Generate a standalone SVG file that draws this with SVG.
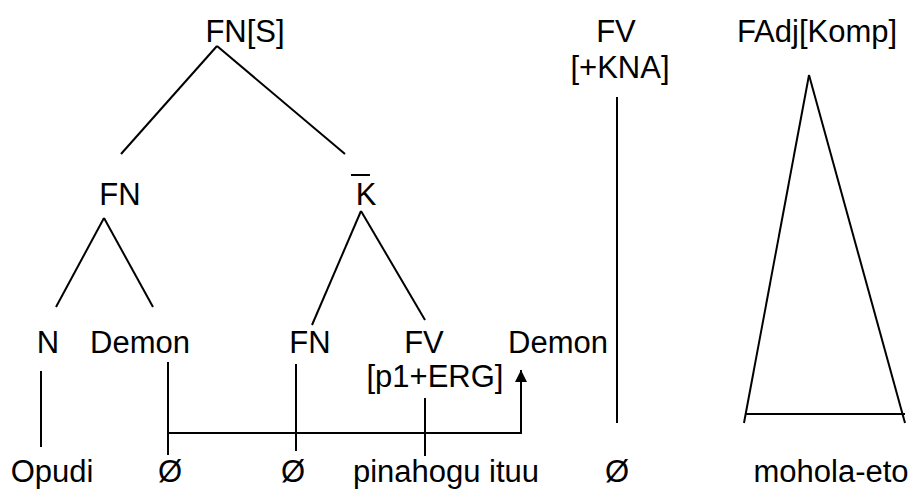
<svg xmlns="http://www.w3.org/2000/svg" width="916" height="489" viewBox="0 0 916 489">
<style>
text{font-family:"Liberation Sans",Arial,sans-serif;font-size:31px;fill:#000;text-anchor:middle}
line,polyline{stroke:#000;stroke-width:2;fill:none}
</style>
<defs>
<marker id="ah" markerWidth="12" markerHeight="12" refX="12" refY="6" orient="auto" markerUnits="userSpaceOnUse" viewBox="0 0 12 12">
<polygon points="0,0 12,6 0,12" fill="#000"/>
</marker>
</defs>
<rect width="916" height="489" fill="#fff"/>
<g id="n-fns"><text x="245" y="42">FN[S]</text></g>
<g id="n-fn1"><text x="120" y="205">FN</text></g>
<g id="n-kbar"><text x="366" y="205">K</text><line x1="351" y1="175" x2="370" y2="175"/></g>
<g id="n-n"><text x="48" y="353">N</text></g>
<g id="n-demon1"><text x="140" y="353">Demon</text></g>
<g id="n-fn2"><text x="310" y="353">FN</text></g>
<g id="n-fv1"><text x="424" y="353">FV</text><text x="435" y="387">[p1+ERG]</text></g>
<g id="n-demon2"><text x="558" y="353">Demon</text></g>
<g id="n-fv2"><text x="616" y="42">FV</text><text x="620" y="78">[+KNA]</text></g>
<g id="n-fadj"><text x="817" y="42">FAdj[Komp]</text></g>
<g id="n-opudi"><text x="52" y="482">Opudi</text></g>
<g id="n-o1"><text x="170" y="482">Ø</text></g>
<g id="n-o2"><text x="293" y="482">Ø</text></g>
<g id="n-pin"><text x="446" y="482">pinahogu ituu</text></g>
<g id="n-o3"><text x="617" y="482">Ø</text></g>
<g id="n-moh"><text x="831" y="482">mohola-eto</text></g>
<g id="connectors">
<line x1="217" y1="46" x2="121" y2="154"/>
<line x1="217" y1="46" x2="345" y2="154"/>
<line x1="104" y1="218" x2="56" y2="307"/>
<line x1="104" y1="218" x2="153" y2="307"/>
<line x1="361" y1="211" x2="312" y2="325"/>
<line x1="361" y1="211" x2="425" y2="320"/>
<line x1="41" y1="371" x2="41" y2="447"/>
<line x1="168" y1="362" x2="168" y2="455"/>
<line x1="296" y1="364" x2="296" y2="451"/>
<line x1="425" y1="398" x2="425" y2="456"/>
<polyline points="168,433 521,433 521,370" marker-end="url(#ah)"/>
<line x1="617" y1="97" x2="617" y2="423"/>
<line x1="809" y1="75" x2="744" y2="423"/>
<line x1="809" y1="75" x2="905" y2="423"/>
<line x1="745" y1="414" x2="905" y2="414"/>
</g>
</svg>
